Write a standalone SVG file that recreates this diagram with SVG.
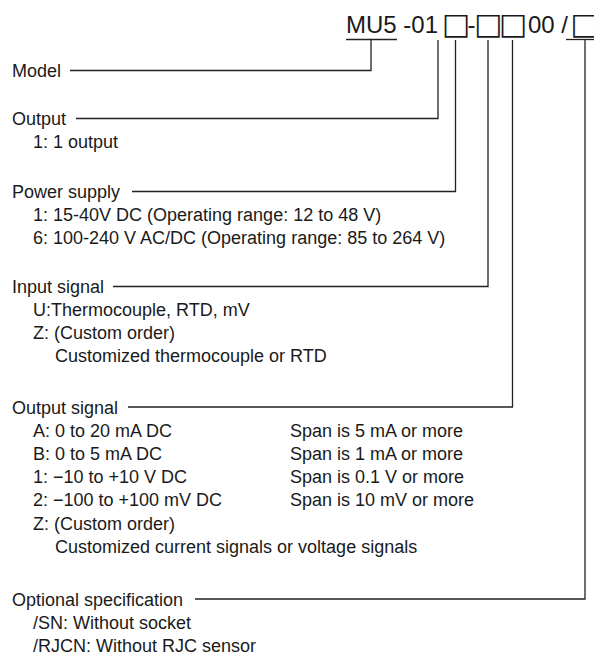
<svg xmlns="http://www.w3.org/2000/svg" width="594" height="655" viewBox="0 0 594 655">
<style>
text{font-family:"Liberation Sans",Arial,Helvetica,sans-serif;fill:#1a1a1a;}
.t{font-size:18px;}
.title{font-size:24px;}
.bx{font-family:"DejaVu Sans",sans-serif;font-size:30px;fill:#1a1a1a;}
.ln{fill:none;stroke:#222;stroke-width:1.3;}
</style>
<rect width="594" height="655" fill="#fff"/>
<g id="title">
<text class="title" y="32.5"><tspan x="346">MU5 -01</tspan><tspan class="bx" x="441.75" y="34">□</tspan><tspan x="467.5" y="32.5">-</tspan><tspan class="bx" x="474" y="34">□</tspan><tspan class="bx" x="498.75" y="34">□</tspan><tspan x="528" y="32.5">00 /</tspan><tspan class="bx" x="570.25" y="34">□</tspan></text>
</g>
<g id="connectors">
<path class="ln" d="M346 39.5H397"/>
<path class="ln" d="M566 39.5H594"/>
<path class="ln" d="M70 70.5H371V39.5"/>
<path class="ln" d="M76 118.5H438V40"/>
<path class="ln" d="M132 191.5H455.5V40"/>
<path class="ln" d="M113 286.5H488V40"/>
<path class="ln" d="M128 407H512.5V40"/>
<path class="ln" d="M195 599H585V39.5"/>
</g>
<g id="model">
<text class="t" x="12" y="76.5">Model</text>
</g>
<g id="output">
<text class="t" x="12" y="124.5">Output</text>
<text class="t" x="33" y="147.5">1: 1 output</text>
</g>
<g id="power-supply">
<text class="t" x="12" y="197.5">Power supply</text>
<text class="t" x="33" y="220.5">1: 15-40V DC (Operating range: 12 to 48 V)</text>
<text class="t" x="33" y="243.5">6: 100-240 V AC/DC (Operating range: 85 to 264 V)</text>
</g>
<g id="input-signal">
<text class="t" x="12" y="292.5">Input signal</text>
<text class="t" x="33" y="315.5">U:Thermocouple, RTD, mV</text>
<text class="t" x="33" y="338.5">Z: (Custom order)</text>
<text class="t" x="55" y="361.5">Customized thermocouple or RTD</text>
</g>
<g id="output-signal">
<text class="t" x="12" y="413.5">Output signal</text>
<text class="t" x="33" y="436.5">A: 0 to 20 mA DC</text>
<text class="t" x="290" y="436.5">Span is 5 mA or more</text>
<text class="t" x="33" y="459.8">B: 0 to 5 mA DC</text>
<text class="t" x="290" y="459.8">Span is 1 mA or more</text>
<text class="t" x="33" y="483.1">1: −10 to +10 V DC</text>
<text class="t" x="290" y="483.1">Span is 0.1 V or more</text>
<text class="t" x="33" y="506.4">2: −100 to +100 mV DC</text>
<text class="t" x="290" y="506.4">Span is 10 mV or more</text>
<text class="t" x="33" y="529.7">Z: (Custom order)</text>
<text class="t" x="55" y="553">Customized current signals or voltage signals</text>
</g>
<g id="optional-specification">
<text class="t" x="12" y="605.5">Optional specification</text>
<text class="t" x="33" y="628.5">/SN: Without socket</text>
<text class="t" x="33" y="651.5">/RJCN: Without RJC sensor</text>
</g>
</svg>
